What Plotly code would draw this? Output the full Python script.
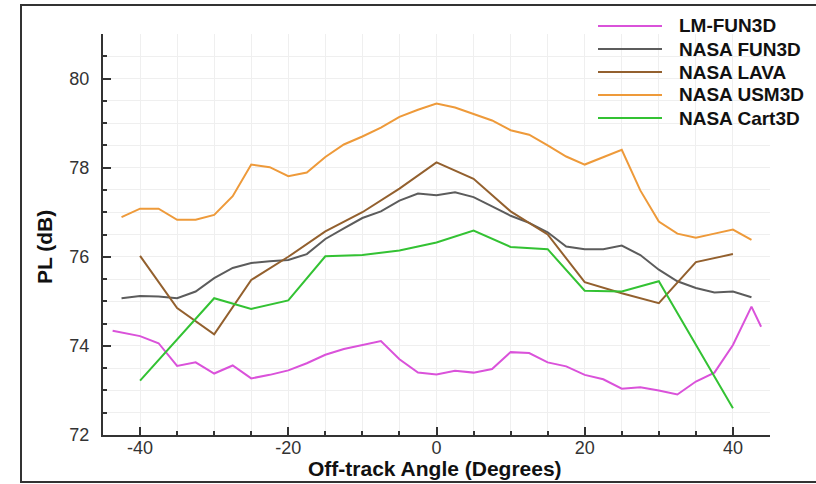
import plotly.graph_objects as go

# ---- data ----
lm_x = [-43.7, -40, -37.5, -35, -32.5, -30, -27.5, -25, -22.5, -20, -17.5, -15, -12.5, -10, -7.5, -5, -2.5, 0,
        2.5, 5, 7.5, 10, 12.5, 15, 17.5, 20, 22.5, 25, 27.5, 30, 32.5, 35, 37.5, 40, 42.5, 43.8]
lm_y = [74.34, 74.22, 74.06, 73.55, 73.63, 73.38, 73.56, 73.27, 73.35, 73.45, 73.61, 73.8, 73.93, 74.02, 74.11, 73.7, 73.4, 73.36,
        73.44, 73.4, 73.48, 73.86, 73.84, 73.63, 73.54, 73.35, 73.25, 73.04, 73.07, 73.0, 72.91, 73.2, 73.4, 74.02, 74.88, 74.43]

fun3d_x = [-42.5, -40, -37.5, -35, -32.5, -30, -27.5, -25, -22.5, -20, -17.5, -15, -12.5, -10, -7.5, -5, -2.5, 0,
           2.5, 5, 7.5, 10, 12.5, 15, 17.5, 20, 22.5, 25, 27.5, 30, 32.5, 35, 37.5, 40, 42.5]
fun3d_y = [75.07, 75.12, 75.11, 75.07, 75.22, 75.52, 75.75, 75.86, 75.9, 75.93, 76.06, 76.4, 76.64, 76.87, 77.02, 77.26, 77.42, 77.38,
           77.45, 77.34, 77.13, 76.92, 76.76, 76.55, 76.23, 76.17, 76.17, 76.25, 76.04, 75.71, 75.45, 75.3, 75.2, 75.22, 75.09]

lava_x = [-40, -35, -30, -25, -20, -15, -10, -5, 0, 5, 10, 15, 20, 25, 30, 35, 40]
lava_y = [76.02, 74.85, 74.26, 75.48, 76.0, 76.57, 77.0, 77.53, 78.12, 77.75, 77.02, 76.5, 75.43, 75.18, 74.96, 75.88, 76.06]

usm3d_x = [-42.5, -40, -37.5, -35, -32.5, -30, -27.5, -25, -22.5, -20, -17.5, -15, -12.5, -10, -7.5, -5, -2.5, 0,
           2.5, 5, 7.5, 10, 12.5, 15, 17.5, 20, 22.5, 25, 27.5, 30, 32.5, 35, 37.5, 40, 42.5]
usm3d_y = [76.89, 77.08, 77.08, 76.83, 76.83, 76.94, 77.36, 78.07, 78.01, 77.81, 77.89, 78.24, 78.52, 78.7, 78.9, 79.14, 79.3, 79.44,
           79.35, 79.2, 79.06, 78.84, 78.74, 78.5, 78.25, 78.07, 78.24, 78.4, 77.49, 76.79, 76.52, 76.43, 76.52, 76.61, 76.38]

cart3d_x = [-40, -30, -25, -20, -15, -10, -5, 0, 5, 10, 15, 20, 25, 30, 40]
cart3d_y = [73.22, 75.07, 74.83, 75.02, 76.01, 76.04, 76.14, 76.32, 76.59, 76.22, 76.17, 75.24, 75.22, 75.45, 72.6]

series_names = ["LM-FUN3D", "NASA FUN3D", "NASA LAVA", "NASA USM3D", "NASA Cart3D"]
series_colors = ["#DA52DA", "#5C5C5C", "#93602E", "#EE9A3A", "#33C233"]
x_tickvals = [-40, -20, 0, 20, 40]
y_tickvals = [72, 74, 76, 78, 80]

xs = [lm_x, fun3d_x, lava_x, usm3d_x, cart3d_x]
ys = [lm_y, fun3d_y, lava_y, usm3d_y, cart3d_y]

FONT = "Liberation Sans, Arial, sans-serif"

fig = go.Figure()
for name, col, x, y in zip(series_names, series_colors, xs, ys):
    fig.add_trace(go.Scatter(x=x, y=y, mode="lines", name=name,
                             line=dict(color=col, width=2), showlegend=False))

W, H = 816, 484
L, R, T, B = 103, 46, 34, 49
pw, ph = W - L - R, H - T - B

def px_x(p):
    return (p - L) / pw

def px_y(p):
    return (H - B - p) / ph

axis_common = dict(
    showline=True, linecolor="#333333", linewidth=2, mirror=False,
    ticks="inside", ticklen=8, tickwidth=1.5, tickcolor="#333333",
    showgrid=True, gridcolor="#EFEFEF", gridwidth=1,
    zeroline=False,
    tickfont=dict(family=FONT, size=18, color="#333333"),
)

# legend (drawn as key lines + text labels)
legend_rows_px = [26, 49, 72, 95, 118]
annotations = []
shapes = []
for name, col, ry in zip(series_names, series_colors, legend_rows_px):
    shapes.append(dict(type="line", xref="paper", yref="paper",
                       x0=px_x(598), x1=px_x(662), y0=px_y(ry), y1=px_y(ry),
                       line=dict(color=col, width=2)))
    annotations.append(dict(text="<b>" + name + "</b>", xref="paper", yref="paper",
                            x=px_x(677), y=px_y(ry), xanchor="left", yanchor="middle",
                            showarrow=False,
                            font=dict(family=FONT, size=19, color="#111111")))

annotations += [
    dict(text="<b>PL (dB)</b>", xref="paper", yref="paper", x=px_x(44), y=px_y(247),
         showarrow=False, textangle=-90, xanchor="center", yanchor="middle",
         font=dict(family=FONT, size=21, color="#111111")),
    dict(text="<b>Off-track Angle (Degrees)</b>", xref="paper", yref="paper", x=px_x(435), y=px_y(468),
         showarrow=False, xanchor="center", yanchor="middle",
         font=dict(family=FONT, size=21, color="#111111")),
]
shapes.append(dict(type="rect", xref="paper", yref="paper",
                   x0=px_x(21), x1=px_x(830), y0=px_y(482), y1=px_y(5),
                   line=dict(color="#333333", width=2), fillcolor="rgba(0,0,0,0)", layer="below"))

fig.update_layout(
    width=W, height=H,
    margin=dict(l=L, r=R, t=T, b=B),
    paper_bgcolor="white", plot_bgcolor="white",
    showlegend=False,
    xaxis=dict(
        range=[-45, 45], tickvals=x_tickvals, ticktext=[str(v) for v in x_tickvals],
        minor=dict(dtick=5, tick0=0, ticks="inside", ticklen=4, tickcolor="#333333",
                   showgrid=True, gridcolor="#EFEFEF"),
        ticklabelstandoff=-5,
        **axis_common,
    ),
    yaxis=dict(
        range=[72, 81], tickvals=y_tickvals, ticktext=[str(v) for v in y_tickvals],
        minor=dict(dtick=0.5, tick0=72, ticks="inside", ticklen=4, tickcolor="#333333",
                   showgrid=True, gridcolor="#EFEFEF"),
        ticklabelstandoff=8,
        **axis_common,
    ),
    annotations=annotations,
    shapes=shapes,
)

fig.write_html("out.html", config={"displayModeBar": False},
               post_script="document.body.style.margin='0';document.body.style.padding='0';")
